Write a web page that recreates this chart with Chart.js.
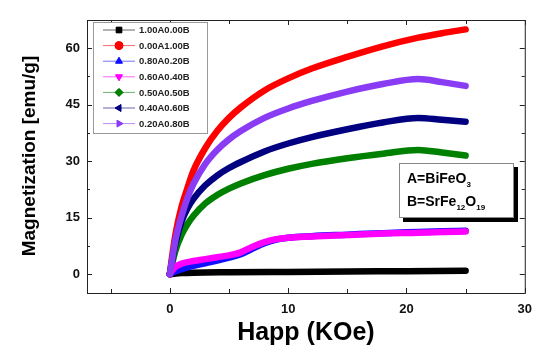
<!DOCTYPE html>
<html>
<head>
<meta charset="utf-8">
<script src="https://cdn.jsdelivr.net/npm/chart.js@4.4.1/dist/chart.umd.min.js"></script>
<style>
  html, body { margin: 0; padding: 0; background: #fff; }
  #wrap { width: 541px; height: 350px; }
</style>
</head>
<body>
<div id="wrap"><canvas id="myChart"></canvas></div>
<script>
const ctx = document.getElementById('myChart');

// field values (KOe) and magnetization (emu/g)
const fieldMain = [0, 0.25, 0.5, 1, 1.5, 2, 3, 4, 5, 6, 8, 10, 12, 15, 18, 21, 23, 25];
const fieldLow = [0, 0.25, 0.5, 1, 1.5, 2, 3, 4, 5, 6, 7, 8, 9, 10, 12, 15, 18, 21, 23, 25];
const fieldBlack = [0, 0.5, 1, 2, 5, 10, 15, 20, 25];

const mBlack = [0, 0.2, 0.3, 0.4, 0.5, 0.6, 0.7, 0.8, 0.9];
const mRed = [0, 6, 11, 18, 23, 27.5, 33.5, 38, 41.5, 44.3, 48.8, 52, 54.6, 57.7, 60.5, 62.8, 64, 65];
const mBlue = [0, 0.4, 0.8, 1.3, 1.8, 2.2, 2.9, 3.6, 4.4, 5.3, 6.8, 8.2, 9.2, 9.7, 10.1, 10.5, 10.9, 11.2, 11.4, 11.5];
const mMagenta = [0, 1.2, 2, 2.8, 3.2, 3.5, 4, 4.5, 5, 5.8, 7.3, 8.5, 9.3, 9.7, 10, 10.4, 10.8, 11, 11.2, 11.3];
const mGreen = [0, 3.5, 6.5, 10.5, 13.3, 15.5, 18.8, 21, 22.7, 24.1, 26.3, 28, 29.3, 30.8, 32, 33, 32.3, 31.5];
const mNavy = [0, 4.5, 8.5, 14, 17.5, 20, 23.6, 26.2, 28.2, 29.8, 32.6, 34.7, 36.4, 38.5, 40.3, 41.5, 41, 40.5];
const mPurple = [0, 5, 9.5, 15.5, 20.3, 24, 29.3, 33, 35.8, 38, 41.5, 44, 46, 48.5, 50.5, 51.8, 51, 50];

const xTicks = [0, 10, 20, 30];
const xMinor = [-5, 5, 15, 25];
const yTicks = [0, 15, 30, 45, 60];
const yMinor = [7.5, 22.5, 37.5, 52.5];

const toPoints = (xs, ys) => xs.map((x, i) => ({ x: x, y: ys[i] }));

const series = [
  { label: '1.00A0.00B', xs: fieldBlack, ys: mBlack, color: '#000000', style: 'rect', rot: 0, order: 6 },
  { label: '0.00A1.00B', xs: fieldMain, ys: mRed, color: '#ff0000', style: 'circle', rot: 0, order: 4 },
  { label: '0.80A0.20B', xs: fieldLow, ys: mBlue, color: '#1010ff', style: 'triangle', rot: 0, order: 5 },
  { label: '0.60A0.40B', xs: fieldLow, ys: mMagenta, color: '#ff00ff', style: 'triangle', rot: 180, order: 1 },
  { label: '0.50A0.50B', xs: fieldMain, ys: mGreen, color: '#008000', style: 'rectRot', rot: 0, order: 3 },
  { label: '0.40A0.60B', xs: fieldMain, ys: mNavy, color: '#000080', style: 'triangle', rot: 270, order: 2 },
  { label: '0.20A0.80B', xs: fieldMain, ys: mPurple, color: '#8a3cf5', style: 'triangle', rot: 90, order: 0 }
];

const FONT = '"Liberation Sans", Arial, sans-serif';

// frame, inward ticks, axis titles, legend and composition box
const decorations = {
  id: 'decorations',
  afterDraw(chart) {
    const c = chart.ctx;
    const a = chart.chartArea;
    const xs = chart.scales.x;
    const ys = chart.scales.y;
    c.save();
    c.strokeStyle = '#222';
    c.lineWidth = 1;
    c.strokeRect(a.left + 0.5, a.top + 0.5, a.right - a.left, a.bottom - a.top);

    c.beginPath();
    const tickX = (v, len) => {
      const px = Math.round(xs.getPixelForValue(v)) + 0.5;
      c.moveTo(px, a.bottom); c.lineTo(px, a.bottom - len);
      c.moveTo(px, a.top); c.lineTo(px, a.top + len);
    };
    const tickY = (v, len) => {
      const py = Math.round(ys.getPixelForValue(v)) + 0.5;
      c.moveTo(a.left, py); c.lineTo(a.left + len, py);
      c.moveTo(a.right, py); c.lineTo(a.right - len, py);
    };
    xTicks.forEach(v => tickX(v, 5));
    xMinor.forEach(v => tickX(v, 4));
    yTicks.forEach(v => tickY(v, 5));
    yMinor.forEach(v => tickY(v, 3));
    c.stroke();

    // axis titles
    c.fillStyle = '#000';
    c.font = 'bold 25px ' + FONT;
    c.textAlign = 'center';
    c.textBaseline = 'middle';
    c.fillText('Happ (KOe)', (a.left + a.right) / 2, 333);
    c.save();
    c.translate(30, 156);
    c.rotate(-Math.PI / 2);
    c.font = 'bold 19px ' + FONT;
    c.fillText('Magnetization [emu/g]', 0, 0);
    c.restore();

    // legend
    c.fillStyle = '#fff';
    c.fillRect(93, 22, 114, 111);
    c.strokeStyle = '#999';
    c.strokeRect(93.5, 22.5, 114, 111);
    series.forEach((s, i) => {
      const y = 30 + i * 15.6;
      c.strokeStyle = s.color;
      c.globalAlpha = 0.6;
      c.lineWidth = 1;
      c.beginPath();
      c.moveTo(103, y); c.lineTo(135, y);
      c.stroke();
      c.globalAlpha = 1;
      c.fillStyle = s.color;
      Chart.helpers.drawPoint(c, { pointStyle: s.style, rotation: s.rot, radius: 4, borderWidth: 1 }, 119, y);
      c.fill();
      c.fillStyle = '#222';
      c.font = 'bold 9.5px ' + FONT;
      c.textAlign = 'left';
      c.fillText(s.label, 139, y + 0.5);
    });

    // composition note
    c.fillStyle = '#000';
    c.fillRect(403, 167, 115, 55);
    c.fillStyle = '#fff';
    c.fillRect(399, 163, 115, 55);
    c.strokeStyle = '#888';
    c.lineWidth = 1;
    c.strokeRect(399.5, 163.5, 114, 54);
    c.fillStyle = '#000';
    c.textAlign = 'left';
    c.textBaseline = 'alphabetic';
    const sub = (parts, x, y) => {
      parts.forEach(p => {
        c.font = (p.s ? 'bold 8px ' : 'bold 14px ') + FONT;
        c.fillText(p.t, x, y + (p.s ? 4 : 0));
        x += c.measureText(p.t).width;
      });
    };
    sub([{ t: 'A=BiFeO' }, { t: '3', s: true }], 407, 183);
    sub([{ t: 'B=SrFe' }, { t: '12', s: true }, { t: 'O' }, { t: '19', s: true }], 407, 206);
    c.restore();
  }
};

const onlyListed = list => value => (list.includes(value) ? String(value) : '');

new Chart(ctx, {
  type: 'line',
  data: {
    datasets: series.map(s => ({
      label: s.label,
      data: toPoints(s.xs, s.ys),
      borderColor: s.color,
      backgroundColor: s.color,
      borderWidth: 6.5,
      pointRadius: 0,
      cubicInterpolationMode: 'monotone',
      order: s.order,
      borderCapStyle: 'round'
    }))
  },
  options: {
    responsive: true,
    maintainAspectRatio: false,
    animation: false,
    layout: { padding: { top: 20, right: 14, left: 0, bottom: 0 } },
    plugins: {
      legend: { display: false },
      tooltip: { enabled: false }
    },
    scales: {
      x: {
        type: 'linear',
        min: -7,
        max: 30,
        afterFit: scale => { scale.height = 57; },
        grid: { display: false, drawTicks: false },
        border: { display: false },
        ticks: {
          stepSize: 10,
          autoSkip: false,
          maxRotation: 0,
          color: '#111',
          padding: 9,
          font: { family: FONT, size: 13, weight: 'bold' },
          callback: onlyListed(xTicks)
        }
      },
      y: {
        type: 'linear',
        min: -5,
        max: 67.5,
        afterFit: scale => { scale.width = 87; },
        grid: { display: false, drawTicks: false },
        border: { display: false },
        ticks: {
          stepSize: 15,
          autoSkip: false,
          color: '#111',
          padding: 7,
          font: { family: FONT, size: 13, weight: 'bold' },
          callback: onlyListed(yTicks)
        }
      }
    }
  },
  plugins: [decorations]
});
</script>
</body>
</html>
